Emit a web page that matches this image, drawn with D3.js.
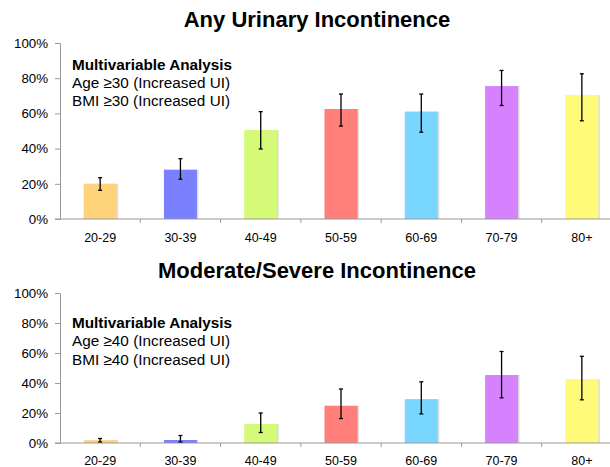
<!DOCTYPE html>
<html>
<head>
<meta charset="utf-8">
<script src="https://cdn.jsdelivr.net/npm/d3@7"></script>
<style>
  body { margin: 0; background: #fff; }
  text { font-family: "Liberation Sans", Arial, sans-serif; }
</style>
</head>
<body>
<div id="svg-div"></div>
<script>
var width = 610;
var height = 467;

// age groups shared by both panels
var ageGroups = ["20-29", "30-39", "40-49", "50-59", "60-69", "70-79", "80+"];
var barColors = ["#ffd37a", "#7b80ff", "#d5fa78", "#ff7f7a", "#78d6ff", "#d682ff", "#fffa7a"];
var yTicks = [0, 20, 40, 60, 80, 100];

// any urinary incontinence (%)
var anyValues = [20, 28, 50.5, 62.5, 61, 75.5, 70.5];
var anyLow = [16.3, 22.6, 39.8, 52.8, 49.3, 64.5, 55.8];
var anyHigh = [23.5, 34.3, 61, 71, 71, 84.4, 82.5];

// moderate/severe incontinence (%)
var modValues = [1.8, 2, 12.7, 24.8, 29.2, 45.3, 42.6];
var modLow = [0.7, 0.7, 7, 16.3, 19.4, 30.1, 28.8];
var modHigh = [3, 5, 20, 36, 40.8, 61, 57.8];

var svg = d3.select("#svg-div").append("svg")
  .attr("width", width).attr("height", height);

function drawPanel(opts) {
  var g = svg.append("g");
  var x = d3.scaleBand().domain(ageGroups).range([60, 622]);
  var y = d3.scaleLinear().domain([0, 100]).range([opts.bottom, opts.top]);
  var barW = 33;

  // title
  g.append("text")
    .attr("x", 317).attr("y", opts.titleY)
    .attr("text-anchor", "middle")
    .style("font-size", "22px").style("font-weight", "bold")
    .text(opts.title);

  // y axis
  var yAxis = g.append("g")
    .attr("transform", "translate(60,0)")
    .call(d3.axisLeft(y).tickValues(yTicks).tickSize(5).tickFormat(function(d) { return d + "%"; }));
  yAxis.select(".domain").attr("stroke", "#999");
  yAxis.selectAll(".tick line").attr("stroke", "#999");
  yAxis.selectAll(".tick text")
    .attr("x", -12)
    .style("font-size", "13.3px").attr("fill", "#000");

  // bar shadow edge
  g.selectAll(".shadow").data(ageGroups).enter().append("rect")
    .attr("x", function(d) { return x(d) + x.bandwidth() / 2 - barW / 2 + 1.5; })
    .attr("y", function(d, i) { return y(opts.values[i]); })
    .attr("width", barW)
    .attr("height", function(d, i) { return y(0) - y(opts.values[i]); })
    .attr("fill", "#dcdcdc");

  // bars
  g.selectAll(".bar").data(ageGroups).enter().append("rect")
    .attr("x", function(d) { return x(d) + x.bandwidth() / 2 - barW / 2; })
    .attr("y", function(d, i) { return y(opts.values[i]); })
    .attr("width", barW)
    .attr("height", function(d, i) { return y(0) - y(opts.values[i]); })
    .attr("fill", function(d, i) { return barColors[i]; });

  // x axis
  var xAxis = g.append("g")
    .attr("transform", "translate(0," + y(0) + ")");
  xAxis.append("line")
    .attr("x1", 55).attr("x2", 622)
    .attr("stroke", "#999");
  xAxis.selectAll(".xt").data(ageGroups).enter().append("line")
    .attr("x1", function(d) { return x(d) + x.bandwidth(); })
    .attr("x2", function(d) { return x(d) + x.bandwidth(); })
    .attr("y1", 0).attr("y2", 4)
    .attr("stroke", "#999");
  xAxis.selectAll(".xl").data(ageGroups).enter().append("text")
    .attr("x", function(d) { return x(d) + x.bandwidth() / 2; })
    .attr("y", opts.labelDy)
    .attr("text-anchor", "middle")
    .style("font-size", "12.5px")
    .text(function(d) { return d; });

  // error bars
  var eb = g.selectAll(".err").data(ageGroups).enter().append("g")
    .attr("transform", function(d) { return "translate(" + (x(d) + x.bandwidth() / 2) + ",0)"; });
  eb.append("line")
    .attr("y1", function(d, i) { return y(opts.low[i]); })
    .attr("y2", function(d, i) { return y(opts.high[i]); })
    .attr("stroke", "#000").attr("stroke-width", 1.3);
  eb.append("line")
    .attr("x1", -2).attr("x2", 2)
    .attr("y1", function(d, i) { return y(opts.low[i]); })
    .attr("y2", function(d, i) { return y(opts.low[i]); })
    .attr("stroke", "#000").attr("stroke-width", 1.3);
  eb.append("line")
    .attr("x1", -2).attr("x2", 2)
    .attr("y1", function(d, i) { return y(opts.high[i]); })
    .attr("y2", function(d, i) { return y(opts.high[i]); })
    .attr("stroke", "#000").attr("stroke-width", 1.3);

  // annotation
  var note = g.append("text")
    .attr("x", 72).attr("y", opts.noteY)
    .style("font-size", "15.3px");
  opts.notes.forEach(function(t, i) {
    note.append("tspan")
      .attr("x", 72).attr("dy", i === 0 ? 0 : opts.noteGap)
      .style("font-weight", i === 0 ? "bold" : "normal")
      .text(t);
  });
}

drawPanel({
  title: "Any Urinary Incontinence",
  titleY: 27, top: 43, bottom: 219, noteY: 69.5, noteGap: 18, labelDy: 23,
  values: anyValues, low: anyLow, high: anyHigh,
  notes: ["Multivariable Analysis", "Age \u226530 (Increased UI)", "BMI \u226530 (Increased UI)"]
});

drawPanel({
  title: "Moderate/Severe Incontinence",
  titleY: 278, top: 293, bottom: 443, noteY: 327.5, noteGap: 18.7, labelDy: 21.5,
  values: modValues, low: modLow, high: modHigh,
  notes: ["Multivariable Analysis", "Age \u226540 (Increased UI)", "BMI \u226540 (Increased UI)"]
});
</script>
</body>
</html>
